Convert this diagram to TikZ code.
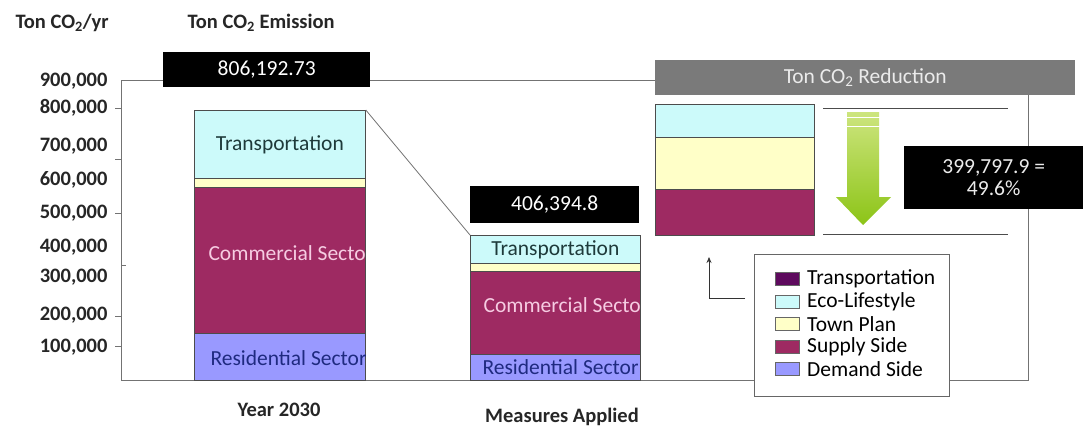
\documentclass[tikz,border=0pt]{standalone}
\usepackage{fontspec}
\setmainfont{Carlito}
\usetikzlibrary{arrows.meta}
\definecolor{ecocyan}{HTML}{CCFAFA}
\definecolor{townyellow}{HTML}{FFFFC8}
\definecolor{supplyred}{HTML}{9E2A62}
\definecolor{demandblue}{HTML}{9999FF}
\definecolor{transpurple}{HTML}{5E0A5E}
\definecolor{commpink}{HTML}{F6CCE2}
\definecolor{resnavy}{HTML}{1F2A80}
\definecolor{transdark}{HTML}{1E3A3A}
\definecolor{greentop}{HTML}{CDE57E}
\definecolor{greenbot}{HTML}{8CC417}
\begin{document}
\begin{tikzpicture}[x=1pt,y=-1pt,
    every node/.style={font=\fontsize{21.5}{22.5}\selectfont},
    seg/.style={draw=black!70,line width=0.8pt},
    valbox/.style={fill=black,text=white,inner sep=0pt,anchor=north west},
    frame/.style={draw=black!55,line width=0.8pt},
    axlab/.style={font=\fontsize{20.5}{22}\selectfont\bfseries,text=black!85},
    ylab/.style={axlab,anchor=east},
    swatch/.style={draw=black!60,line width=0.6pt,minimum width=24,minimum height=13,inner sep=0pt}]
    \useasboundingbox (0,0) rectangle (1083,426);
    \fill[white] (0,0) rectangle (1083,426);

    \node[axlab,anchor=west] (unit) at (12,23) {Ton CO\textsubscript{2}/yr};
    \node[axlab,anchor=west] (emittitle) at (184,23) {Ton CO\textsubscript{2} Emission};

    \draw[frame] (121,80) -- (655,80);
    \draw[frame] (121,80) -- (121,380) -- (1028,380) -- (1028,95);
    \foreach \yy in {108,159,213,316,346}
        \draw[frame] (115,\yy) -- (121,\yy);
    \draw[frame] (121,265) -- (126,265);
    \foreach \val/\yy in {900/81,800/108,700/146,600/180,500/213,400/247,300/277,200/315,100/347}
        \node[ylab] (y\val) at (111,\yy) {\val,000};

    \node[valbox,minimum width=207,minimum height=35] (emitval) at (163,52) {806,192.73};

    \node[seg,fill=ecocyan,text=transdark,anchor=north west,minimum width=171,minimum height=68,inner sep=0pt] (yeartrans) at (194,110) {Transportation};
    \filldraw[seg,fill=townyellow] (194,178) rectangle (365,187);
    \filldraw[seg,fill=supplyred] (194,187) rectangle (365,333);
    \filldraw[seg,fill=demandblue] (194,333) rectangle (365,380);
    \begin{scope}
        \clip (194,187) rectangle (365,380);
        \node[anchor=west,text=commpink] (yearsupply) at (205,253) {Commercial Sector};
        \node[anchor=west,text=resnavy] (yeardemand) at (207,358) {Residential Sector};
    \end{scope}
    \node[axlab] (yearlab) at (279,410) {Year 2030};

    \node[valbox,minimum width=169,minimum height=37] (measval) at (470,186) {406,394.8};
    \node[seg,fill=ecocyan,text=transdark,anchor=north west,minimum width=170,minimum height=28,inner sep=0pt] (meastrans) at (470,235) {Transportation};
    \filldraw[seg,fill=townyellow] (470,263) rectangle (640,271);
    \filldraw[seg,fill=supplyred] (470,271) rectangle (640,354);
    \filldraw[seg,fill=demandblue] (470,354) rectangle (640,380);
    \begin{scope}
        \clip (470,271) rectangle (640,380);
        \node[anchor=west,text=commpink] (meassupply) at (480,305) {Commercial Sector};
        \node[anchor=west,text=resnavy] (measdemand) at (479,367) {Residential Sector};
    \end{scope}
    \node[axlab] (measlab) at (562,417) {Measures Applied};

    \draw[black!55,line width=0.8pt] (yeartrans.north east) -- (meastrans.north west);

    \node[fill=black!52,text=black!8,anchor=north west,minimum width=420,minimum height=35,inner sep=0pt] (redtitle) at (655,60) {Ton CO\textsubscript{2} Reduction};
    \filldraw[seg,fill=ecocyan] (655,104) rectangle (814,137);
    \filldraw[seg,fill=townyellow] (655,137) rectangle (814,189);
    \filldraw[seg,fill=supplyred] (655,189) rectangle (814,235);
    \draw[black!70,line width=0.8pt] (823,108) -- (1008,108);
    \draw[black!70,line width=0.8pt] (823,234) -- (1008,234);

    \shade[top color=greentop,bottom color=greenbot]
        (847,112) -- (879,112) -- (879,197) -- (891,197) -- (863,225) -- (836,197) -- (847,197) -- cycle;
    \draw[white,line width=1.2pt] (846,117.5) -- (880,117.5);
    \draw[white,line width=1.2pt] (846,126.5) -- (880,126.5);

    \node[valbox,text=black!8,minimum width=179,minimum height=63,align=center] (redval) at (904,146) {399,797.9 =\\49.6\%};

    \node[fill=white,draw=black!60,line width=0.8pt,anchor=north west,minimum width=195,minimum height=142,inner sep=0pt] (legend) at (754,254) {};
    \foreach \col/\txt [count=\i] in {transpurple/Transportation,ecocyan/Eco-Lifestyle,townyellow/Town Plan,supplyred/Supply Side,demandblue/Demand Side}
    {
        \node[swatch,fill=\col] (sw\i) at (787,256.5+22.5*\i) {};
        \node[anchor=west,inner sep=0pt] (lg\i) at (807,256.5+22.5*\i) {\txt};
    }

    \coordinate (arrowfoot) at (745,298);
    \coordinate (arrowtip) at (709,257);
    \draw[black!80,line width=0.8pt,-{Stealth[length=6pt,width=5pt]}] (arrowfoot) -| (arrowtip);
\end{tikzpicture}
\end{document}
